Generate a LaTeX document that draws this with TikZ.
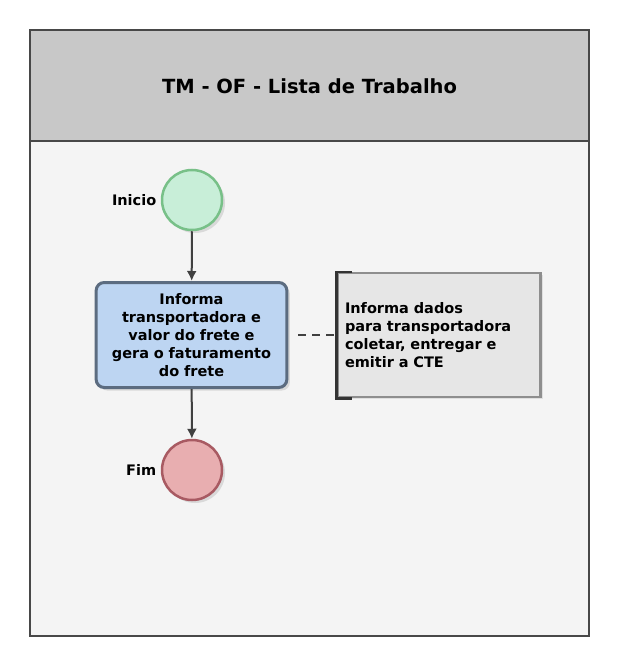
\documentclass[tikz,border=0pt]{standalone}
\usepackage{fontspec}
\setmainfont{DejaVu Sans}
\usetikzlibrary{shadows,arrows.meta}
\definecolor{poolbg}{HTML}{F4F4F4}
\definecolor{headbg}{HTML}{C8C8C8}
\definecolor{frameline}{HTML}{484848}
\definecolor{startfill}{HTML}{C8EED8}
\definecolor{startline}{HTML}{78C088}
\definecolor{taskfill}{HTML}{BDD5F2}
\definecolor{taskline}{HTML}{5C6C80}
\definecolor{endfill}{HTML}{E8AEB0}
\definecolor{endline}{HTML}{A85A62}
\definecolor{notefill}{HTML}{E6E6E6}
\definecolor{noteline}{HTML}{8E8E8E}
\begin{document}
\begin{tikzpicture}[x=1pt, y=-1pt, font=\bfseries\fontsize{14.5}{18}\selectfont,
    event style/.style={circle, minimum size=60pt, inner sep=0pt, line width=2.5pt,
        drop shadow={shadow xshift=3pt, shadow yshift=-3pt, fill=black!25}},
    task style/.style={draw=taskline, fill=taskfill, line width=3pt, rounded corners=8pt,
        minimum width=188pt, minimum height=105pt, align=center, text width=184pt,
        drop shadow={shadow xshift=3pt, shadow yshift=-3pt, fill=black!25}},
    note style/.style={draw=noteline, fill=notefill, line width=2.5pt,
        minimum width=203pt, minimum height=124pt, align=left, text width=188pt,
        drop shadow={shadow xshift=2pt, shadow yshift=-2pt, fill=black!20}},
    flow/.style={draw=black!75, line width=2pt, -{Latex[length=10pt, width=10pt]}},
    ]
    \useasboundingbox (0,0) rectangle (632,669);
    \fill[white] (0,0) rectangle (632,669);

    % pool
    \fill[poolbg] (30,30) rectangle (589,636);
    \fill[headbg] (30,30) rectangle (589,141);
    \draw[frameline, line width=2pt] (30,30) rectangle (589,636);
    \draw[frameline, line width=2.5pt] (30,141) -- (589,141);
    \node (title) at (309.5,86) {\fontsize{19.5}{22}\selectfont TM - OF - Lista de Trabalho};

    \node[event style, draw=startline, fill=startfill] (start) at (192,200) {};
    \node[left=1pt] (startlabel) at (start.west) {Inicio};

    \node[task style] (task) at (191.5,335) {Informa\\transportadora e\\valor do frete e\\gera o faturamento\\do frete};

    \node[event style, draw=endline, fill=endfill] (end) at (192,470) {};
    \node[left=1pt] (endlabel) at (end.west) {Fim};

    \node[note style] (note) at (439,335) {Informa dados\\para transportadora\\coletar, entregar e\\emitir a CTE};
    \draw[black!80, line width=2.5pt] ([xshift=16pt]note.north west) -- (note.north west)
        -- (note.south west) -- ([xshift=16pt]note.south west);

    \draw[flow] (start) -- (task);
    \draw[flow] (task) -- (end);
    \draw[black!75, line width=2pt, dash pattern=on 8pt off 6pt] ([xshift=10pt]task.east) -- (note.west);

\end{tikzpicture}
\end{document}
